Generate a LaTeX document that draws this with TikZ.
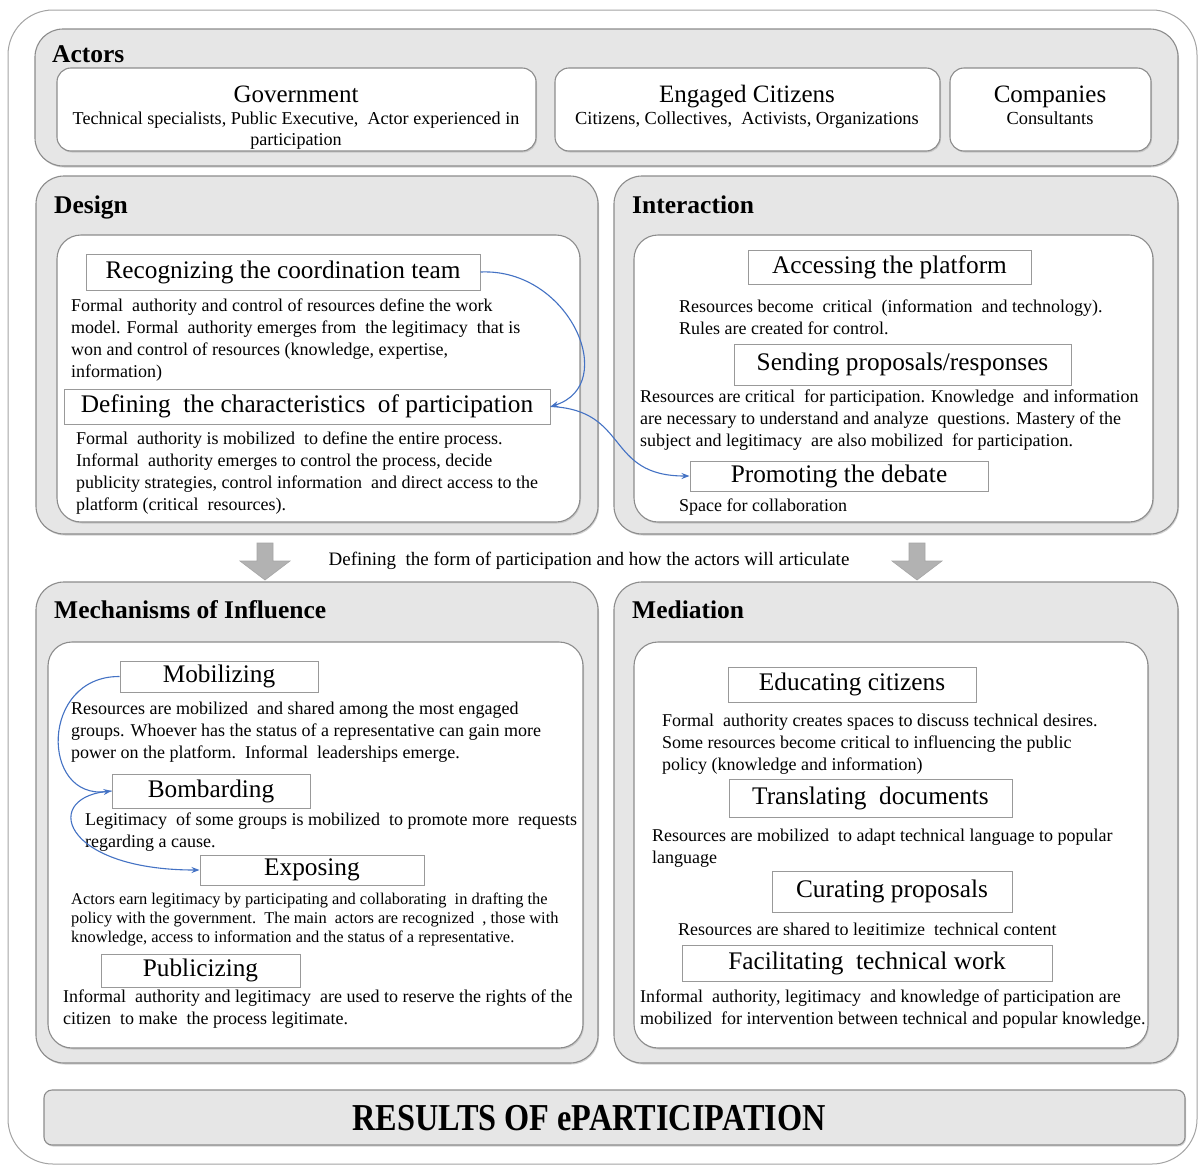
\documentclass[tikz,border=0pt]{standalone}
\usepackage{fontspec}
\setmainfont{Liberation Serif}
\newfontfamily\resfont[FakeStretch=0.85]{Liberation Serif}
\usetikzlibrary{fit,shadows,arrows.meta}
\definecolor{arrblue}{HTML}{4472C4}
\definecolor{panelgray}{HTML}{E6E6E6}
\definecolor{edgegray}{HTML}{8C8C8C}
\begin{document}
\begin{tikzpicture}[x=1pt,y=-1pt,
  outerbox/.style={draw=edgegray!80, line width=1pt, rounded corners=45pt, fill=white, inner sep=0pt},
  panel/.style={draw=edgegray, line width=1.1pt, fill=panelgray, rounded corners=28pt, inner sep=0pt,
    drop shadow={opacity=0.35, shadow xshift=1pt, shadow yshift=-1.5pt}},
  innerbox/.style={draw=edgegray, line width=1.1pt, fill=white, rounded corners=24pt, inner sep=0pt,
    drop shadow={opacity=0.3, shadow xshift=1pt, shadow yshift=-1.5pt}},
  actorbox/.style={draw=edgegray, line width=1.1pt, fill=white, rounded corners=14pt, inner sep=0pt,
    drop shadow={opacity=0.3, shadow xshift=1pt, shadow yshift=-1.5pt}},
  stepbox/.style={draw=black!40, line width=1pt, fill=white, inner sep=0pt,
    font=\fontsize{25.3}{28}\selectfont},
  sectitle/.style={anchor=base west, inner sep=0pt, font=\bfseries\fontsize{25.5}{28}\selectfont},
  para/.style={anchor=north west, inner sep=0pt, align=left, font=\fontsize{18}{22}\selectfont},
  smallpara/.style={anchor=north west, inner sep=0pt, align=left, font=\fontsize{16.4}{19}\selectfont},
  actortitle/.style={anchor=base, inner sep=0pt, font=\fontsize{25}{28}\selectfont},
  actorsub/.style={anchor=north, inner sep=0pt, align=center, font=\fontsize{18.4}{21}\selectfont},
  bluearr/.style={draw=arrblue, line width=1.1pt, -{Stealth[length=8pt,width=6pt]}},
  fatarrow/.style={fill=black!30, draw=black!35, line width=0.6pt}
]
\useasboundingbox (0,0) rectangle (1201,1167);

% outer frame
\node[outerbox, fit={(8,10)(1197,1164)}] (outer) {};

% ---------------- Actors ----------------
\node[panel, fit={(35,29)(1178,166)}] (actors) {};
\node[sectitle] (actorslbl) at (52,62) {Actors};
\node[actorbox, fit={(57,68)(536,151)}] (gov) {};
\node[actortitle] (govt) at (296,102) {Government};
\node[actorsub, font=\fontsize{18.1}{21}\selectfont] (govs) at (296,112) {Technical specialists, Public Executive,\ \ Actor experienced in\\participation};
\node[actorbox, fit={(555,68)(940,151)}] (cit) {};
\node[actortitle] (citt) at (747,102) {Engaged Citizens};
\node[actorsub] (cits) at (747,112) {Citizens, Collectives,\ \ Activists, Organizations};
\node[actorbox, fit={(950,68)(1151,151)}] (comp) {};
\node[actortitle] (compt) at (1050,102) {Companies};
\node[actorsub] (comps) at (1050,112) {Consultants};

% ---------------- Design ----------------
\node[panel, fit={(36,176)(598,534)}] (design) {};
\node[sectitle] (designlbl) at (54,213) {Design};
\node[innerbox, fit={(57,235)(580,522)}] (designin) {};
\node[stepbox, minimum width=394, minimum height=36] (rec) at (283,272) {Recognizing\ the\ coordination\ team};
\node[para] (recp) at (71,299) {Formal\ \ authority and control of resources define the work\\
model. Formal\ \ authority emerges from\ \ the legitimacy\ \ that is\\
won and control of resources (knowledge, expertise,\\
information)};
\node[stepbox, minimum width=486, minimum height=35] (def) at (307,406.5) {Defining\ \ the\ characteristics\ \ of participation};
\node[para] (defp) at (76,432) {Formal\ \ authority is mobilized\ \ to define the entire process.\\
Informal\ \ authority\ emerges\ to control the process, decide\\
publicity strategies, control information\ \ and direct access to the\\
platform (critical\ \ resources).};

% ---------------- Interaction ----------------
\node[panel, fit={(614,176)(1178,534)}] (inter) {};
\node[sectitle] (interlbl) at (632,213) {Interaction};
\node[innerbox, fit={(634,235)(1153,522)}] (interin) {};
\node[stepbox, minimum width=283, minimum height=34] (acc) at (889.5,267) {Accessing the platform};
\node[para] (accp) at (679,300) {Resources become\ \ critical\ \ (information\ \ and technology).\\
Rules\ are created for control.};
\node[stepbox, minimum width=337, minimum height=41] (send) at (902.5,364.5) {Sending proposals/responses};
\node[para] (sendp) at (640,390) {Resources are\ critical\ \ for participation. Knowledge\ \ and information\\
are necessary to understand and analyze\ \ questions. Mastery of the\\
subject and legitimacy\ \ are\ also mobilized\ \ for participation.};
\node[stepbox, minimum width=298, minimum height=30] (prom) at (839,476) {Promoting the debate};
\node[para] (promp) at (679,499) {Space for collaboration};

% ---------------- connecting arrows (fat) ----------------
\draw[fatarrow] (257,543) -- (273,543) -- (273,561) -- (290,561) -- (265,580) -- (240,561) -- (257,561) -- cycle;
\draw[fatarrow] (909,543) -- (925,543) -- (925,561) -- (942,561) -- (917,580) -- (892,561) -- (909,561) -- cycle;
\node[anchor=base, inner sep=0pt, font=\fontsize{19}{21}\selectfont] (midtext) at (589,565)
  {Defining\ \ the\ form of participation and how the actors will articulate};

% ---------------- Mechanisms ----------------
\node[panel, fit={(36,582)(598,1063)}] (mech) {};
\node[sectitle] (mechlbl) at (54,618) {Mechanisms of Influence};
\node[innerbox, fit={(48,642)(583,1048)}] (mechin) {};
\node[stepbox, minimum width=198, minimum height=31] (mob) at (219,676.5) {Mobilizing};
\node[para] (mobp) at (71,702) {Resources are mobilized\ \ and shared among the most engaged\\
groups. Whoever has the status of a representative can gain more\\
power\ on the platform.\ \ Informal\ \ leaderships emerge.};
\node[stepbox, minimum width=198, minimum height=34] (bomb) at (211,791) {Bombarding};
\node[para] (bombp) at (85,813) {Legitimacy\ \ of\ some\ groups is mobilized\ \ to promote\ more\ \ requests\\
regarding\ a cause.};
\node[stepbox, minimum width=224, minimum height=30] (expo) at (312,870) {Exposing};
\node[smallpara] (expop) at (71,893) {Actors earn legitimacy\ by participating and collaborating\ \ in drafting\ the\\
policy with the government.\ \ The main\ \ actors are recognized\ \ , those with\\
knowledge,\ access to information and\ the status of a representative.};
\node[stepbox, minimum width=199, minimum height=33] (pub) at (200.5,970.5) {Publicizing};
\node[para] (pubp) at (63,990) {Informal\ \ authority and legitimacy\ \ are used to reserve the rights of the\\
citizen\ \ to make\ \ the process legitimate.};

\draw[bluearr] (rec.east) .. controls (570,268) and (620,385) .. (def.east);
\draw[bluearr] (def.east) .. controls (630,410) and (605,476) .. (prom.west);
\draw[bluearr] (mob.west) .. controls (40,676) and (40,800) .. (bomb.west);
\draw[bluearr] (bomb.west) .. controls (40,795) and (60,870) .. (expo.west);

% ---------------- Mediation ----------------
\node[panel, fit={(614,582)(1178,1063)}] (med) {};
\node[sectitle] (medlbl) at (632,618) {Mediation};
\node[innerbox, fit={(634,642)(1148,1048)}] (medin) {};
\node[stepbox, minimum width=248, minimum height=35] (edu) at (852,684.5) {Educating\ citizens};
\node[para] (edup) at (662,714) {Formal\ \ authority creates spaces to discuss technical desires.\\
Some\ resources become\ critical\ to influencing\ the public\\
policy (knowledge\ and information)};
\node[stepbox, minimum width=283, minimum height=38] (trans) at (870.5,798) {Translating\ \ documents};
\node[para] (transp) at (652,829) {Resources are mobilized\ \ to adapt technical language to popular\\
language};
\node[stepbox, minimum width=240, minimum height=41] (cur) at (892,891.5) {Curating\ proposals};
\begin{scope}
\clip (640,912) rectangle (1140,934.5);
\node[para] (curp) at (678,923) {Resources are\ shared to legitimize\ \ technical content};
\end{scope}
\node[stepbox, minimum width=370, minimum height=36] (fac) at (867,963) {Facilitating\ \ technical work};
\node[para] (facp) at (640,990) {Informal\ \ authority, legitimacy\ \ and knowledge\ of participation\ are\\
mobilized\ \ for intervention between technical\ and popular knowledge.};

% ---------------- Results ----------------
\node[draw=edgegray, line width=1.1pt, fill=panelgray, rounded corners=8pt, inner sep=0pt,
  drop shadow={opacity=0.35, shadow xshift=1pt, shadow yshift=-1.5pt},
  fit={(44,1090)(1185,1145)}] (results) {};
\node[inner sep=0pt, font=\resfont\bfseries\fontsize{38}{42}\selectfont] (resultst) at (589,1118) {RESULTS OF ePARTICIPATION};
\end{tikzpicture}
\end{document}
